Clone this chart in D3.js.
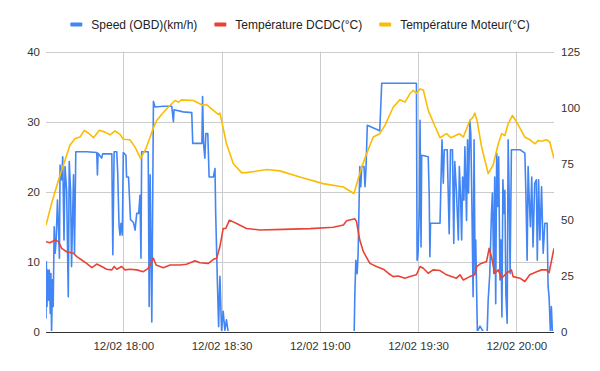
<!DOCTYPE html>
<html><head><meta charset="utf-8">
<script src="https://cdn.jsdelivr.net/npm/d3@7"></script>
<style>
html,body{margin:0;padding:0;background:#fff;}
text{font-family:Arial,"Liberation Sans",sans-serif;}
</style></head>
<body><svg id="c" width="600" height="371"></svg>
<script>
// time = minutes after 17:00 on 12/02
const seriesNames = ["Speed (OBD)(km/h)", "Température DCDC(°C)", "Température Moteur(°C)"];
const seriesColors = ["#4285F4", "#EA4335", "#FBBC04"];
const leftTicks = [0, 10, 20, 30, 40];
const rightTicks = [0, 25, 50, 75, 100, 125];
const xTickMinutes = [60, 90, 120, 150, 180];
const xTickLabels = ["12/02 18:00", "12/02 18:30", "12/02 19:00", "12/02 19:30", "12/02 20:00"];

const speed = [[36.4,1.9],[36.5,10],[36.7,3.6],[36.9,8.8],[37.2,4.5],[37.4,8.8],[37.7,2.6],[37.9,8.3],[38.1,0],[38.4,7.4],[38.6,3.6],[38.9,15],[39.2,11.2],[39.5,13.1],[39.9,18.8],[40.2,15],[40.5,10.5],[40.7,23.8],[41.2,21.7],[41.5,25],[41.9,13.1],[42.2,23.6],[42.7,20.2],[43.2,5],[43.5,24.3],[43.9,20.2],[44.2,9.3],[44.8,22.4],[45.1,11.2],[45.5,25.7],[48.8,25.7],[51.9,25.6],[52.1,22.4],[52.3,25.5],[53.4,24.8],[53.7,25.4],[56.5,25.4],[56.8,11],[57.2,25.7],[58.0,25.7],[58.3,22.6],[58.7,15.2],[59.0,13.8],[59.3,15.5],[59.7,13.8],[60.0,25.6],[60.8,25.2],[61.0,22.1],[61.6,22.1],[62.2,16],[63.1,15.6],[63.6,14.5],[64.1,16.9],[64.7,16.9],[65.1,19.5],[65.4,10.5],[65.6,25.7],[67.6,25.7],[67.9,3.6],[68.2,22.4],[68.7,1.4],[69.2,32.9],[69.7,32.1],[72.2,32.2],[74.8,32.2],[75.3,30],[75.5,31.7],[78.3,31.4],[80.9,31.3],[81.2,26.9],[84.0,26.9],[84.2,33.6],[84.5,26.9],[84.9,24.8],[85.2,28.3],[85.8,28.3],[86.2,22.1],[87.5,22.1],[88.0,23.3],[88.2,17.1],[88.7,7.6],[89.1,0.7],[89.5,7.9],[90.0,0.2],[90.5,2.9],[91.0,0.2],[91.5,1.7],[92.0,0],
[130.5,0],[130.7,5.5],[131.0,10.2],[131.4,8.3],[131.7,11.2],[132.2,23.6],[132.5,20.7],[132.8,23.6],[133.5,23.6],[133.8,20.7],[134.1,23.3],[134.5,29.5],[138.3,28.7],[138.9,35.5],[149.5,35.5],[149.7,10.2],[150.0,11.2],[150.4,17.9],[150.6,30.2],[150.9,12.1],[151.1,25.2],[153.1,25],[153.4,19.5],[153.6,10.7],[153.8,15.5],[156.7,15.5],[157.0,21.7],[157.3,27.4],[157.7,21.2],[158.0,26],[158.9,26],[159.5,14],[159.9,26],[160.5,26],[160.9,12.6],[161.2,24.3],[161.7,20.2],[162.3,13.1],[162.6,23.6],[163.0,18.8],[163.3,13.1],[163.6,22.1],[164.0,18.8],[164.3,26.4],[164.8,15.9],[165.1,27.4],[165.4,19.8],[165.8,30.2],[166.1,28.3],[166.4,19.3],[166.8,5],[167.1,27.4],[167.4,8.3],[167.6,13.1],[168.1,0],[168.9,0.8],[169.9,0],[171.1,0],[171.4,4.5],[171.9,8.3],[172.4,16.9],[172.7,19.8],[173.1,8.3],[173.4,22.1],[173.7,4],[174.0,25.5],[174.3,17.9],[174.6,25],[175.0,7.4],[175.3,13.1],[175.6,2.1],[175.9,21.7],[176.2,16.9],[176.5,20.2],[176.8,5.5],[177.2,1.2],[177.5,27.4],[177.8,19.8],[178.1,8.3],[178.5,26],[181.1,26],[182.6,25.5],[182.9,20.2],[183.3,10.2],[183.6,23.6],[183.9,19.4],[184.3,15],[184.7,22.1],[185.1,12.1],[185.6,21.2],[186.1,21.7],[186.4,10.2],[186.8,21.7],[187.2,13.1],[187.7,20.7],[188.2,11.2],[188.7,15.5],[189.4,15.5],[189.7,6.4],[190.0,5],[190.4,0],[190.7,3.6],[191.0,0],[191.5,0]];

const dcdc = [[36.4,40.2],[37.6,39.7],[39.2,40.9],[40.2,40.2],[41.2,37.2],[42.7,35.7],[44.8,35.0],[45.8,33.5],[47.3,32.0],[48.8,30.5],[50.4,28.6],[51.9,30.2],[53.4,29.1],[54.9,27.9],[56.5,27.6],[57.2,29.1],[58.0,27.9],[59.5,29.1],[60.5,27.6],[62.0,27.9],[64.1,27.6],[66.1,26.8],[67.6,28.3],[69.2,32.8],[70.0,29.8],[72.2,28.6],[74.3,29.8],[77.3,29.8],[79.3,30.1],[81.9,31.7],[83.4,30.8],[86.0,30.5],[87.5,32.3],[88.5,32.8],[89.5,38.0],[90.5,46.1],[91.3,46.1],[92.4,49.8],[94.6,48.3],[97.6,46.1],[101.7,45.4],[108.8,45.7],[117.0,46.0],[124.1,46.6],[127.2,47.6],[128.2,49.5],[130.7,50.4],[131.2,49.1],[132.2,40.9],[133.3,35.7],[135.3,30.5],[137.3,29.1],[139.4,27.9],[140.9,26.1],[142.4,24.6],[143.9,24.9],[146.0,23.9],[147.5,24.6],[149.5,25.4],[150.6,29.1],[151.6,28.3],[153.1,26.1],[154.6,27.6],[156.7,27.3],[158.7,25.4],[160.2,24.6],[161.7,23.9],[162.8,25.4],[163.8,23.1],[165.8,24.6],[167.3,25.4],[167.9,29.1],[168.9,30.2],[170.9,31.3],[171.7,37.2],[172.4,33.5],[173.4,26.1],[174.5,27.6],[175.5,23.9],[177.0,26.1],[178.5,27.6],[179.0,24.6],[181.1,23.9],[182.6,22.4],[184.1,25.4],[186.2,26.8],[187.7,27.6],[189.2,27.6],[190.0,26.4],[191.5,37.2]];

const moteur = [[36.4,47.6],[38.1,57.2],[40.2,67.6],[41.7,74.3],[43.7,83.2],[45.3,86.2],[46.8,86.9],[48.1,89.9],[49.3,88.7],[50.9,86.6],[52.7,89.9],[54.4,89.1],[55.9,87.9],[57.5,89.6],[59.0,88.1],[60.0,85.9],[62.0,85.7],[63.6,82.4],[65.3,77.3],[66.9,81.7],[68.2,86.9],[69.2,91.0],[70.2,94.3],[71.7,97.0],[73.7,100.2],[75.8,103.2],[76.8,102.5],[77.8,103.5],[81.4,103.2],[84.4,101.0],[85.4,101.4],[87.5,98.8],[89.0,97.0],[89.5,97.6],[90.0,94.3],[91.5,83.9],[93.6,75.0],[96.1,71.0],[97.6,71.0],[103.8,72.4],[107.8,71.8],[113.9,69.1],[121.0,66.1],[127.2,64.6],[130.4,61.7],[132.8,73.5],[134.3,79.5],[136.3,86.9],[138.3,88.4],[139.9,92.1],[142.4,100.2],[144.4,103.5],[146.0,102.5],[147.5,106.2],[148.5,107.7],[149.5,106.5],[150.6,108.4],[151.6,107.9],[153.1,98.8],[154.6,93.6],[156.7,86.6],[158.7,88.4],[160.0,86.6],[162.6,88.4],[163.8,86.9],[164.8,90.6],[165.8,94.3],[166.8,95.8],[167.3,97.6],[168.0,94.3],[169.4,82.4],[171.4,70.6],[172.9,74.3],[174.5,83.9],[175.5,88.4],[176.5,87.6],[177.5,92.8],[178.8,96.5],[180.1,93.6],[182.6,86.9],[184.1,85.7],[185.7,83.9],[186.7,85.4],[187.7,85.0],[189.2,85.7],[190.2,84.7],[191.5,77.3]];

const base = new Date(2023, 1, 12, 17, 0, 0);
const toDate = m => new Date(base.getTime() + m * 60000);

const svg = d3.select("#c");
const L = 46, R = 554, T = 51.7, B = 331.7;

const x = d3.scaleTime().domain([toDate(36.4), toDate(191.5)]).range([L, R]);
const yL = d3.scaleLinear().domain([0, 40]).range([B, T]);
const yR = d3.scaleLinear().domain([0, 125]).range([B, T]);

// horizontal gridlines (left axis)
svg.append("g").selectAll("line").data(leftTicks).join("line")
  .attr("x1", L).attr("x2", R)
  .attr("y1", d => Math.round(yL(d)) + 0.5).attr("y2", d => Math.round(yL(d)) + 0.5)
  .attr("stroke", "#cccccc").attr("stroke-width", 1);
// vertical gridlines
svg.append("g").selectAll("line").data(xTickMinutes).join("line")
  .attr("x1", d => Math.round(x(toDate(d))) + 0.5).attr("x2", d => Math.round(x(toDate(d))) + 0.5)
  .attr("y1", T).attr("y2", B)
  .attr("stroke", "#cccccc").attr("stroke-width", 1);

// clip
svg.append("clipPath").attr("id", "clip").append("rect")
  .attr("x", L).attr("y", T - 2).attr("width", R - L).attr("height", 331 - (T - 2));

const lineL = d3.line().x(d => x(toDate(d[0]))).y(d => yL(d[1]));
const lineR = d3.line().x(d => x(toDate(d[0]))).y(d => yR(d[1]));

const g = svg.append("g").attr("clip-path", "url(#clip)");
g.append("path").datum(speed).attr("d", lineL).attr("fill", "none")
  .attr("stroke", seriesColors[0]).attr("stroke-width", 1.6).attr("stroke-linejoin", "round");
g.append("path").datum(dcdc).attr("d", lineR).attr("fill", "none")
  .attr("stroke", seriesColors[1]).attr("stroke-width", 1.6).attr("stroke-linejoin", "round");
g.append("path").datum(moteur).attr("d", lineR).attr("fill", "none")
  .attr("stroke", seriesColors[2]).attr("stroke-width", 1.6).attr("stroke-linejoin", "round");

// baseline
svg.append("line").attr("x1", L).attr("x2", R)
  .attr("y1", Math.round(B) + 0.5).attr("y2", Math.round(B) + 0.5)
  .attr("stroke", "#333333").attr("stroke-width", 1);

// axes (labels only)
const axL = d3.axisLeft(yL).tickValues(leftTicks).tickSize(0).tickPadding(6);
const gL = svg.append("g").attr("transform", `translate(${L},0)`).call(axL);
const axR = d3.axisRight(yR).tickValues(rightTicks).tickSize(0).tickPadding(7);
const gR = svg.append("g").attr("transform", `translate(${R},0)`).call(axR);
const axB = d3.axisBottom(x).tickValues(xTickMinutes.map(toDate))
  .tickFormat((d, i) => xTickLabels[i]).tickSize(0).tickPadding(10);
const gB = svg.append("g").attr("transform", `translate(0,${B})`).call(axB);
[gL, gR, gB].forEach(gg => {
  gg.select(".domain").remove();
  gg.selectAll("text").attr("font-size", 11.5).attr("fill", "#333")
    .attr("font-family", 'Arial,"Liberation Sans",sans-serif');
});

// legend
const lg = svg.append("g");
const items = lg.selectAll("g").data(seriesNames).join("g");
items.append("rect").attr("width", 12).attr("height", 4).attr("rx", 1).attr("y", -2)
  .attr("fill", (d, i) => seriesColors[i]);
items.append("text").attr("x", 21).attr("dy", "0.35em").attr("font-size", 12)
  .attr("fill", "#222").text(d => d);
let pos = 0; const offs = [];
items.each(function(d, i) {
  offs.push(pos);
  const w = d3.select(this).select("text").node().getComputedTextLength();
  pos += 21 + w + (i < seriesNames.length - 1 ? 17 : 0);
});
const start = 300 - pos / 2;
items.attr("transform", (d, i) => `translate(${start + offs[i]},24.5)`);
</script></body></html>
